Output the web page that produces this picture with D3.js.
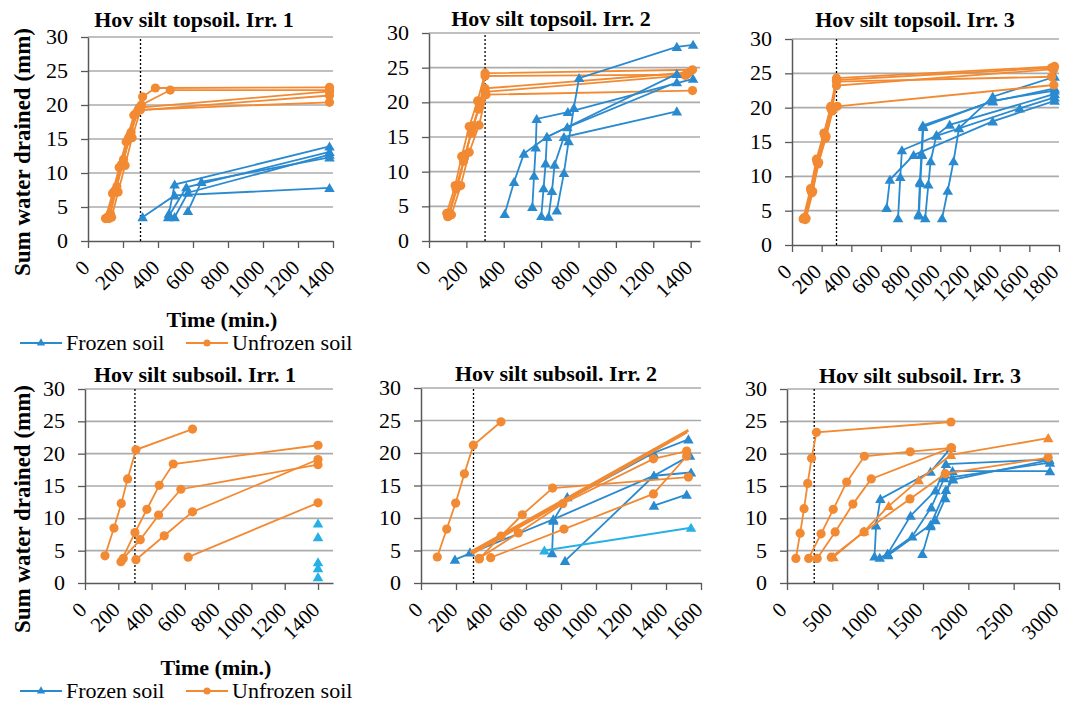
<!DOCTYPE html>
<html>
<head>
<meta charset="utf-8">
<script src="https://cdn.jsdelivr.net/npm/d3@7"></script>
<style>
  body { margin: 0; background: #fff; }
</style>
</head>
<body>
<div id="dataviz"></div>
<script>
// values: each series is a list of [time (min.), sum drained (mm)]
const yTicks = [0, 5, 10, 15, 20, 25, 30];
const ticks1400 = [0, 200, 400, 600, 800, 1000, 1200, 1400];
const ticks1600 = [0, 200, 400, 600, 800, 1000, 1200, 1400, 1600];
const ticks1800 = [0, 200, 400, 600, 800, 1000, 1200, 1400, 1600, 1800];
const ticks3000 = [0, 500, 1000, 1500, 2000, 2500, 3000];
const irrigationEnd = 300;

const titles = ['Hov silt topsoil. Irr. 1', 'Hov silt topsoil. Irr. 2', 'Hov silt topsoil. Irr. 3',
  'Hov silt subsoil. Irr. 1', 'Hov silt subsoil. Irr. 2', 'Hov silt subsoil. Irr. 3'];
const legendLabels = ['Frozen soil', 'Unfrozen soil'];

const top1Unfrozen = [
  [[100, 3.3], [140, 7.0], [178, 10.8], [218, 14.6], [262, 18.5], [312, 21.2], [385, 22.5], [1380, 22.6]],
  [[110, 3.5], [150, 7.3], [190, 11.2], [232, 15.2], [275, 18.8], [305, 20.0], [470, 22.2], [1380, 22.2]],
  [[120, 3.3], [158, 7.5], [200, 11.5], [240, 15.5], [285, 19.2], [1380, 21.4]],
  [[135, 3.5], [172, 7.2], [212, 11.1], [252, 15.2], [300, 19.3], [1380, 20.4]],
  [[128, 4.0], [165, 8.0], [203, 12.0], [246, 16.0], [292, 19.6], [1380, 22.0]]];
const top1Frozen = [
  [[312, 3.5], [495, 6.7], [1380, 7.8]],
  [[462, 4.0], [495, 8.3], [1380, 13.9]],
  [[458, 3.5], [562, 7.9], [1380, 13.1]],
  [[495, 3.5], [571, 7.1], [1380, 12.7]],
  [[571, 4.4], [648, 8.7], [1380, 12.3]]];

const top2Unfrozen = [
  [[95, 4.0], [140, 8.0], [175, 12.2], [215, 16.5], [260, 20.2], [300, 24.2], [1410, 24.7]],
  [[100, 3.5], [150, 8.0], [190, 12.0], [230, 16.0], [270, 19.5], [300, 23.8], [1380, 24.0]],
  [[110, 4.0], [155, 8.0], [195, 12.5], [235, 16.6], [275, 20.0], [300, 22.0], [1390, 24.3]],
  [[120, 3.8], [170, 8.0], [215, 12.8], [268, 16.7], [305, 21.1], [1410, 21.7]],
  [[105, 3.6], [145, 7.5], [185, 11.5], [225, 15.5], [265, 19.0], [302, 21.5], [1370, 23.9]]];
const top2Frozen = [
  [[405, 3.9], [455, 8.5], [508, 12.6], [631, 15.0], [740, 16.4], [1326, 22.9]],
  [[553, 4.9], [562, 9.4], [571, 13.5], [576, 17.6], [743, 18.6], [1413, 23.4]],
  [[601, 3.6], [613, 7.6], [624, 11.2], [631, 15.0], [1326, 24.1]],
  [[640, 3.5], [658, 7.2], [672, 11.0], [722, 15.0], [1326, 18.7]],
  [[684, 4.4], [722, 9.8], [747, 14.4], [775, 19.2], [803, 23.5], [1326, 28.0], [1413, 28.3]]];

const top3Unfrozen = [
  [[75, 3.8], [125, 8.2], [165, 12.5], [215, 16.3], [260, 20.0], [300, 24.3], [1770, 26.0]],
  [[85, 4.0], [130, 7.8], [170, 12.0], [220, 16.0], [265, 19.8], [300, 24.0], [1750, 25.8]],
  [[90, 3.7], [135, 7.6], [175, 11.8], [225, 15.5], [270, 19.5], [300, 23.8], [1750, 24.5]],
  [[80, 3.9], [128, 8.0], [168, 12.3], [218, 16.2], [262, 20.2], [300, 23.2], [1765, 25.6]],
  [[95, 3.9], [140, 7.8], [180, 12.0], [230, 15.8], [275, 19.6], [305, 20.2], [1765, 23.3]]];
const top3Frozen = [
  [[638, 5.4], [660, 9.5], [820, 13.1], [1353, 18.0], [1771, 21.0]],
  [[715, 3.9], [730, 9.9], [741, 13.8], [974, 15.9], [1535, 19.9], [1771, 21.5]],
  [[853, 4.5], [862, 9.2], [873, 13.3], [882, 17.4], [1353, 20.9], [1771, 22.8]],
  [[856, 4.3], [865, 9.0], [876, 13.1], [885, 17.2], [1353, 21.0], [1771, 22.5]],
  [[898, 3.9], [919, 8.8], [935, 12.2], [974, 16.0], [1063, 17.5], [1771, 22.0]],
  [[1012, 3.9], [1050, 7.9], [1089, 12.2], [1126, 17.0], [1353, 21.6], [1771, 24.5]]];

const sub1Unfrozen = [
  [[120, 4.2], [174, 8.5], [218, 12.3], [256, 16.1], [306, 20.6], [646, 23.8]],
  [[216, 3.3], [300, 7.8], [372, 11.4], [446, 15.1], [530, 18.4], [1400, 21.3]],
  [[230, 3.8], [332, 6.7], [442, 10.5], [576, 14.5], [1400, 18.3]],
  [[306, 3.6], [476, 7.3], [646, 11.0], [1400, 19.1]],
  [[620, 4.0], [1400, 12.4]]];
const sub1Frozen = [[[1400, 9.2]], [[1400, 7.1]], [[1400, 3.2]], [[1400, 2.3]], [[1400, 0.9]]];

const sub2Unfrozen = [
  [[93, 4.0], [147, 8.3], [198, 12.3], [248, 16.8], [299, 21.2], [457, 24.8]],
  [[333, 3.7], [457, 7.2], [579, 10.5], [752, 14.6], [1528, 16.3]],
  [[333, 3.8], [556, 7.7], [810, 12.2], [1328, 19.1], [1518, 20.3]],
  [[398, 3.9], [817, 8.3], [1328, 13.7], [1518, 19.5]]];
const sub2UnfrozenPlain = [
  [[280, 4.7], [1528, 23.5]],
  [[290, 4.5], [1520, 23.2]]];
const sub2Frozen = [
  [[194, 3.6], [756, 9.8], [1331, 16.5], [1543, 17.0]],
  [[280, 4.7], [1328, 20.0], [1528, 22.1]],
  [[749, 4.6], [756, 9.6], [836, 13.2]],
  [[823, 3.4], [1331, 16.5], [1537, 19.6]],
  [[1331, 11.9], [1518, 13.6]]];
const sub2FrozenLight = [[[705, 5.0], [1543, 8.5]]];

const sub3Unfrozen = [
  [[98, 3.8], [145, 7.7], [188, 11.5], [228, 15.4], [271, 19.3], [325, 23.3], [1808, 24.9]],
  [[239, 3.8], [376, 7.6], [510, 11.4], [658, 15.6], [853, 19.6], [1359, 20.3], [1815, 20.9]],
  [[333, 3.8], [531, 7.9], [727, 12.2], [929, 16.1], [1808, 20.9]],
  [[488, 4.0], [850, 7.9], [1356, 13.0], [1746, 16.9], [2881, 19.4]]];
const sub3UnfrozenTri = [[[513, 4.0], [850, 8.0], [1121, 11.9], [1453, 15.9], [1808, 19.8], [2881, 22.4]]];
const sub3Frozen = [
  [[965, 4.1], [983, 8.9], [1030, 13.0], [1583, 17.2], [1808, 20.9]],
  [[1023, 3.9], [1110, 4.5], [1363, 10.4], [1638, 14.3], [1753, 18.4], [2892, 19.1]],
  [[1110, 4.5], [1381, 7.2], [1591, 11.7], [1735, 16.2], [2900, 18.6]],
  [[1493, 4.5], [1583, 8.8], [1638, 9.7], [1746, 13.1], [1826, 17.3], [2900, 17.3]],
  [[1115, 4.3], [1583, 9.0], [1753, 14.4], [1833, 16.0], [2892, 19.0]]];

const blue = '#2a8ad0',
orange = '#f28a33',
lightBlue = '#27b0e6';

const fontSize = 22;
const fontName = 'Liberation Serif';

const svg = d3.select('#dataviz').
append('svg').
attr('width', 1067).
attr('height', 702).
attr('font-family', fontName).
attr('font-size', fontSize);

// every label goes through here so the serif face is set on the element itself
const label = (parent, str, bold = false, size = fontSize) => parent.append('text').
attr('font-family', fontName).
attr('font-size', size).
attr('font-weight', bold ? 'bold' : 'normal').
attr('fill', '#000').
text(str);

const frozenGroup = (data, color = blue) => ({ data, color, marker: 'triangle' });
const unfrozenGroup = (data, marker = 'circle') => ({ data, color: orange, marker });

const panels = [
  { title: titles[0], groups: [unfrozenGroup(top1Unfrozen), frozenGroup(top1Frozen)],
    xTicks: ticks1400, xMax: 1400, left: 88, right: 333, top: 37, bottom: 241, titleX: 194, titleY: 27, labelDx: 3 },
  { title: titles[1], groups: [unfrozenGroup(top2Unfrozen), frozenGroup(top2Frozen)],
    xTicks: ticks1400, xMax: 1450, left: 429, right: 700, top: 33, bottom: 241, titleX: 551, titleY: 26, labelDx: 3 },
  { title: titles[2], groups: [frozenGroup(top3Frozen), unfrozenGroup(top3Unfrozen)],
    xTicks: ticks1800, xMax: 1800, left: 792, right: 1059, top: 39, bottom: 245, titleX: 915, titleY: 27, labelDx: 1 },
  { title: titles[3], groups: [frozenGroup(sub1Frozen, lightBlue), unfrozenGroup(sub1Unfrozen)],
    xTicks: ticks1400, xMax: 1490, left: 85, right: 333, top: 389, bottom: 583, titleX: 195, titleY: 382, labelDx: 3 },
  { title: titles[4], groups: [frozenGroup(sub2Frozen), frozenGroup(sub2FrozenLight, lightBlue),
    unfrozenGroup(sub2Unfrozen), unfrozenGroup(sub2UnfrozenPlain, null)],
    xTicks: ticks1600, xMax: 1600, left: 421, right: 701, top: 388, bottom: 583, titleX: 556, titleY: 381, labelDx: 3 },
  { title: titles[5], groups: [frozenGroup(sub3Frozen), unfrozenGroup(sub3Unfrozen), unfrozenGroup(sub3UnfrozenTri, 'triangle')],
    xTicks: ticks3000, xMax: 3000, left: 787, right: 1059, top: 389, bottom: 583, titleX: 920, titleY: 383, labelDx: 1 }];


const triangle = d3.symbol().type(d3.symbolTriangle).size(48);

panels.forEach(p => {
  const x = d3.scaleLinear().domain([0, p.xMax]).range([p.left, p.right]);
  const y = d3.scaleLinear().domain([0, 30]).range([p.bottom, p.top]);
  const g = svg.append('g');

  label(g, p.title, true).
  attr('x', p.titleX).
  attr('y', p.titleY).
  attr('text-anchor', 'middle');

  // gridlines
  g.selectAll('.grid').
  data(yTicks.filter(d => d > 0)).
  enter().
  append('line').
  attr('x1', p.left).
  attr('x2', p.right).
  attr('y1', d => y(d)).
  attr('y2', d => y(d)).
  attr('stroke', '#ababab').
  attr('stroke-width', 1.6);

  // axes: d3 draws the ticks, labels are plain text elements
  const yAxis = g.append('g').
  attr('transform', `translate(${p.left},0)`).
  call(d3.axisLeft(y).tickValues(yTicks).tickSize(7).tickSizeOuter(0).tickFormat(''));
  yAxis.select('.domain').attr('stroke', '#595959').attr('stroke-width', 1.5);
  yAxis.selectAll('line').attr('stroke', '#595959').attr('stroke-width', 1.3);
  yTicks.forEach(v => {
    label(g, v).
    attr('x', p.left - 20).
    attr('y', y(v) + 7).
    attr('text-anchor', 'end');
  });

  const xAxis = g.append('g').
  attr('transform', `translate(0,${p.bottom})`).
  call(d3.axisBottom(x).tickValues(p.xTicks).tickSize(7).tickSizeOuter(0).tickFormat(''));
  xAxis.select('.domain').attr('stroke', '#595959').attr('stroke-width', 1.5);
  xAxis.selectAll('line').attr('stroke', '#595959').attr('stroke-width', 1.3);
  p.xTicks.forEach(t => {
    label(g, d3.format('d')(t), false, 21).
    attr('text-anchor', 'end').
    attr('transform', `translate(${x(t) + p.labelDx},${p.bottom + 28}) rotate(-45)`);
  });

  // end of irrigation
  g.append('line').
  attr('x1', x(irrigationEnd)).
  attr('x2', x(irrigationEnd)).
  attr('y1', y(0)).
  attr('y2', y(30)).
  attr('stroke', '#000').
  attr('stroke-width', 1.3).
  attr('stroke-dasharray', '2,2');

  const line = d3.line().x(d => x(d[0])).y(d => y(d[1]));

  p.groups.forEach(grp => {
    const series = g.append('g');
    series.selectAll('path.series').
    data(grp.data).
    enter().
    append('path').
    attr('d', line).
    attr('fill', 'none').
    attr('stroke', grp.color).
    attr('stroke-width', grp.marker ? 1.8 : 2.6);

    if (grp.marker === 'circle') {
      series.selectAll('circle').
      data(grp.data.flat()).
      enter().
      append('circle').
      attr('cx', d => x(d[0])).
      attr('cy', d => y(d[1])).
      attr('r', 4.6).
      attr('fill', grp.color);
    } else if (grp.marker === 'triangle') {
      series.selectAll('.tri').
      data(grp.data.flat()).
      enter().
      append('path').
      attr('d', triangle).
      attr('transform', d => `translate(${x(d[0])},${y(d[1]) + 1})`).
      attr('fill', grp.color);
    }
  });
});

// axis titles and legends, shared by each row
const rows = [{ yMid: 152, timeX: 222, timeY: 327, legendY: 343 },
  { yMid: 509, timeX: 216, timeY: 675, legendY: 691 }];

rows.forEach(r => {
  label(svg, 'Sum water drained (mm)', true, 23).
  attr('transform', `translate(30,${r.yMid}) rotate(-90)`).
  attr('text-anchor', 'middle');

  label(svg, 'Time (min.)', true).
  attr('x', r.timeX).
  attr('y', r.timeY).
  attr('text-anchor', 'middle');

  const legend = svg.append('g').attr('transform', `translate(20,${r.legendY})`);
  [[blue, 'triangle', 0], [orange, 'circle', 166]].forEach(([color, marker, dx], i) => {
    legend.append('line').
    attr('x1', dx).
    attr('x2', dx + 42).
    attr('stroke', color).
    attr('stroke-width', 1.8);
    if (marker === 'circle') {
      legend.append('circle').attr('cx', dx + 21).attr('r', 3.5).attr('fill', color);
    } else {
      legend.append('path').
      attr('d', d3.symbol().type(d3.symbolTriangle).size(30)).
      attr('transform', `translate(${dx + 21},0)`).
      attr('fill', color);
    }
    label(legend, legendLabels[i]).
    attr('x', dx + 46).
    attr('y', 7);
  });
});
</script>
</body>
</html>
